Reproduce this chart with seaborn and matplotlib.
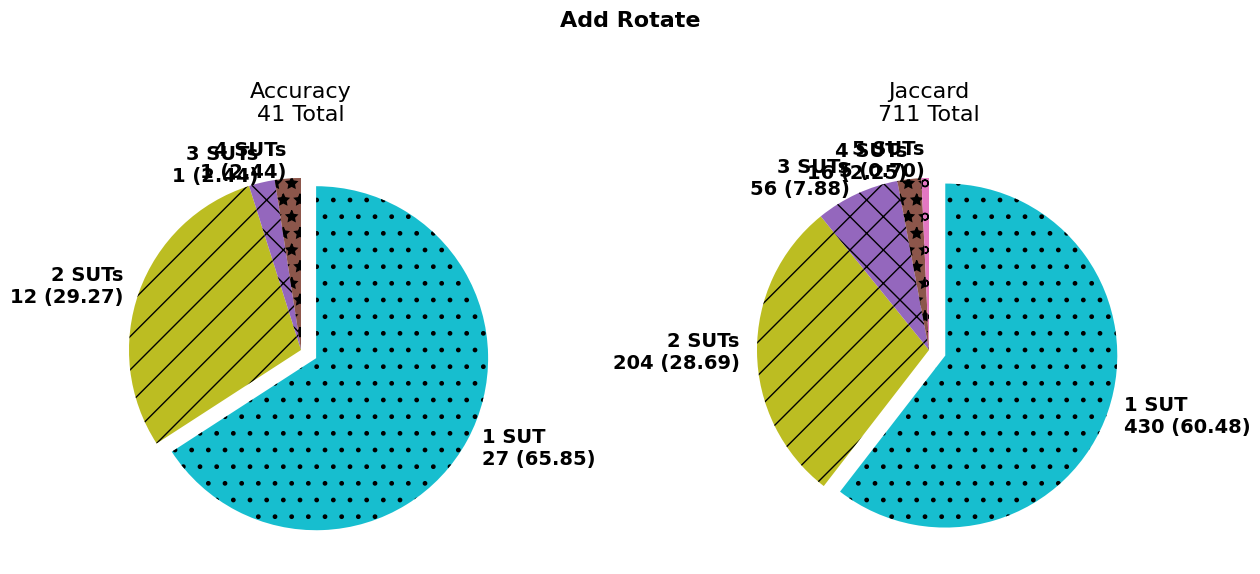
import matplotlib
matplotlib.use("Agg")
import matplotlib.pyplot as plt
import seaborn as sns

sns.set_theme(style="white")
plt.rcParams['font.family'] = ['DejaVu Sans']
plt.rcParams.update({
    'patch.force_edgecolor': False,
    'patch.edgecolor': 'black',
    'hatch.color': 'black',
    'text.color': 'black',
})

acc_labels = ["1 SUT", "2 SUTs", "3 SUTs", "4 SUTs"]
acc_counts = [27, 12, 1, 1]
jac_labels = ["1 SUT", "2 SUTs", "3 SUTs", "4 SUTs", "5 SUTs"]
jac_counts = [430, 204, 56, 16, 5]

pal = sns.color_palette("tab10")
colors = [pal[9], pal[8], pal[4], pal[5], pal[6]]
hatches = ['.', '/', 'x', '*', 'o']

fig = plt.figure(figsize=(12.6, 5.74), dpi=100)
W, H = 1260, 574
size = 430
ax1 = fig.add_axes([86 / W, (H - 565) / H, size / W, size / H])
ax2 = fig.add_axes([714 / W, (H - 565) / H, size / W, size / H])

def draw(ax, name, labels, counts):
    total = sum(counts)
    texts = [f"{l}\n{c} ({c / total * 100:.2f})" for l, c in zip(labels, counts)]
    explode = [0.1] + [0] * (len(counts) - 1)
    wedges, _ = ax.pie(counts, labels=texts, colors=colors[:len(counts)],
                       startangle=90, counterclock=False, explode=explode,
                       textprops={'fontsize': 14, 'fontweight': 'bold'})
    for w, h in zip(wedges, hatches):
        w.set_hatch(h)
    ax.set_title(f"{name}\n{total} Total", fontsize=16, pad=10)

draw(ax1, "Accuracy", acc_labels, acc_counts)
draw(ax2, "Jaccard", jac_labels, jac_counts)

fig.suptitle("Add Rotate", fontsize=16, fontweight='bold')
fig.savefig("out.png", dpi=100)
